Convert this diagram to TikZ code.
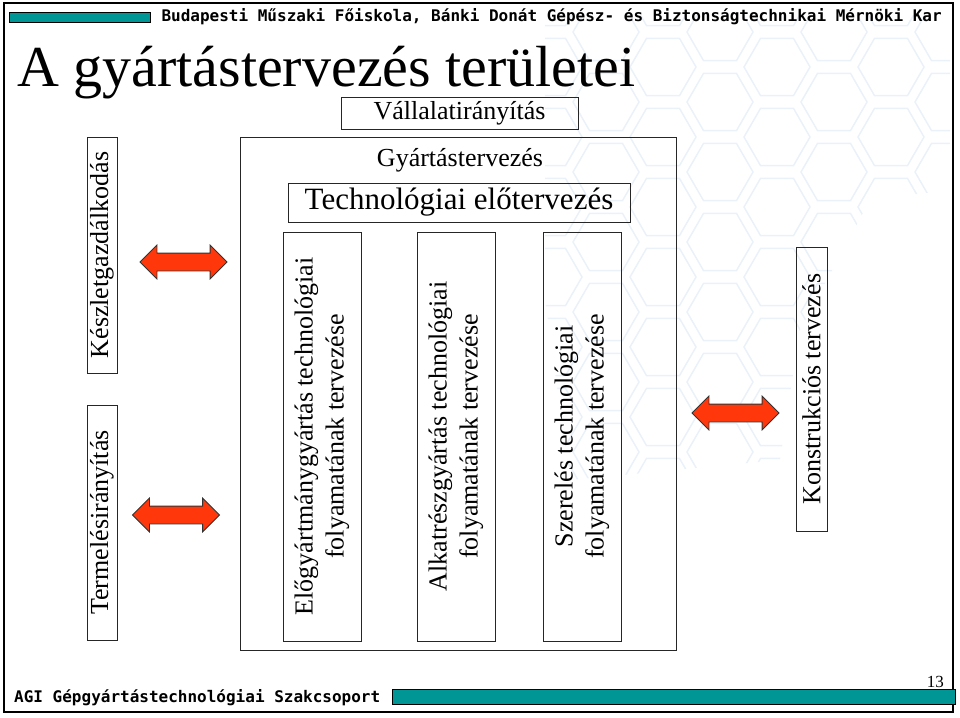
\documentclass[tikz,border=0pt]{standalone}
\usepackage{fontspec}
\setmainfont{Liberation Serif}
\newfontfamily\headfont{DejaVu Sans Mono}
\usetikzlibrary{shapes.arrows}
\definecolor{bandteal}{RGB}{0,150,150}
\definecolor{arrowred}{RGB}{255,55,10}
\definecolor{hexblue}{RGB}{234,241,249}
\tikzset{box/.style = {draw = black!85, line width = 1pt, inner sep = 0, align = center},
  vbox/.style = {box, rotate = 90},
  bigarrow/.style = {double arrow, draw = black!80, line width = 0.8pt, fill = arrowred,
    inner xsep = 0, inner ysep = 8.5pt, double arrow head extend = 8pt, minimum height = 87pt},
  hexline/.style = {hexblue, line width = 1.5pt},
  txt/.style = {font = \fontsize{26}{31}\selectfont}}

\begin{document}
\begin{tikzpicture}[x = 1pt, y = -1pt]
  \useasboundingbox (0, 0) rectangle (960, 717);

  % honeycomb in the background
  \begin{scope}
    \clip (545, 15) -- (950, 15) -- (950, 190) -- (870, 200) -- (800, 330) -- (780, 460) -- (570, 480) -- (545, 300) -- cycle;
    \foreach \i in {-3, ..., 4}
      \foreach \j in {-1, ..., 6} {
        \pgfmathsetmacro\cx{720 + 57*\i}
        \pgfmathsetmacro\cy{102 + 70*\j - 35*mod(\i + 4, 2)}
        \draw [hexline] (\cx + 33, \cy) -- (\cx + 16.5, \cy + 28.6) -- (\cx - 16.5, \cy + 28.6)
          -- (\cx - 33, \cy) -- (\cx - 16.5, \cy - 28.6) -- (\cx + 16.5, \cy - 28.6) -- cycle;
      }
  \end{scope}

  % frame, header and footer
  \draw [line width = 2.5pt] (4, 3) rectangle (953, 712);
  \fill [bandteal, draw = black, line width = 0.6pt] (9, 12) rectangle (150, 22);
  \node [anchor = east, inner sep = 0] (head) at (942, 17) {\headfont\bfseries\fontsize{16}{16}\selectfont Budapesti Műszaki Főiskola, Bánki Donát Gépész- és Biztonságtechnikai Mérnöki Kar};
  \fill [bandteal, draw = black, line width = 0.6pt] (392, 689) rectangle (955, 704);
  \node [anchor = west, inner sep = 0] (foot) at (14, 698) {\headfont\bfseries\fontsize{16}{16}\selectfont AGI Gépgyártástechnológiai Szakcsoport};
  \node [anchor = east, inner sep = 0] (page) at (944, 682) {\fontsize{17}{17}\selectfont 13};

  % title
  \node [anchor = base west, inner sep = 0] (title) at (17, 86) {\fontsize{58}{58}\selectfont A gyártástervezés területei};

  % boxes
  \node [box, txt, minimum width = 237, minimum height = 32] (vall) at (459.5, 113) {Vállalatirányítás};
  \node [box, minimum width = 436, minimum height = 513] (gyart) at (458, 393.5) {};
  \node [txt] (gyarttxt) at (460, 160) {Gyártástervezés};
  \node [box, minimum width = 342, minimum height = 39] (eloterv) at (459, 202.5) {\fontsize{31}{31}\selectfont Technológiai előtervezés};

  \node [vbox, txt, minimum width = 409, minimum height = 78] (elo) at (322, 436.5) {Előgyártmánygyártás technológiai\\folyamatának tervezése};
  \node [vbox, txt, minimum width = 409, minimum height = 78] (alk) at (456, 436.5) {Alkatrészgyártás technológiai\\folyamatának tervezése};
  \node [vbox, txt, minimum width = 409, minimum height = 78] (szer) at (582, 436.5) {Szerelés technológiai\\folyamatának tervezése};

  \node [vbox, txt, minimum width = 236, minimum height = 30] (keszlet) at (102, 255) {Készletgazdálkodás};
  \node [vbox, txt, minimum width = 235, minimum height = 30] (termel) at (102, 522.5) {Termelésirányítás};
  \node [vbox, txt, minimum width = 284, minimum height = 31] (konstr) at (811.5, 389) {Konstrukciós tervezés};

  % arrows
  \node [bigarrow] (a1) at (183.5, 262) {};
  \node [bigarrow] (a2) at (176, 515) {};
  \node [bigarrow] (a3) at (735.5, 413) {};
\end{tikzpicture}
\end{document}
